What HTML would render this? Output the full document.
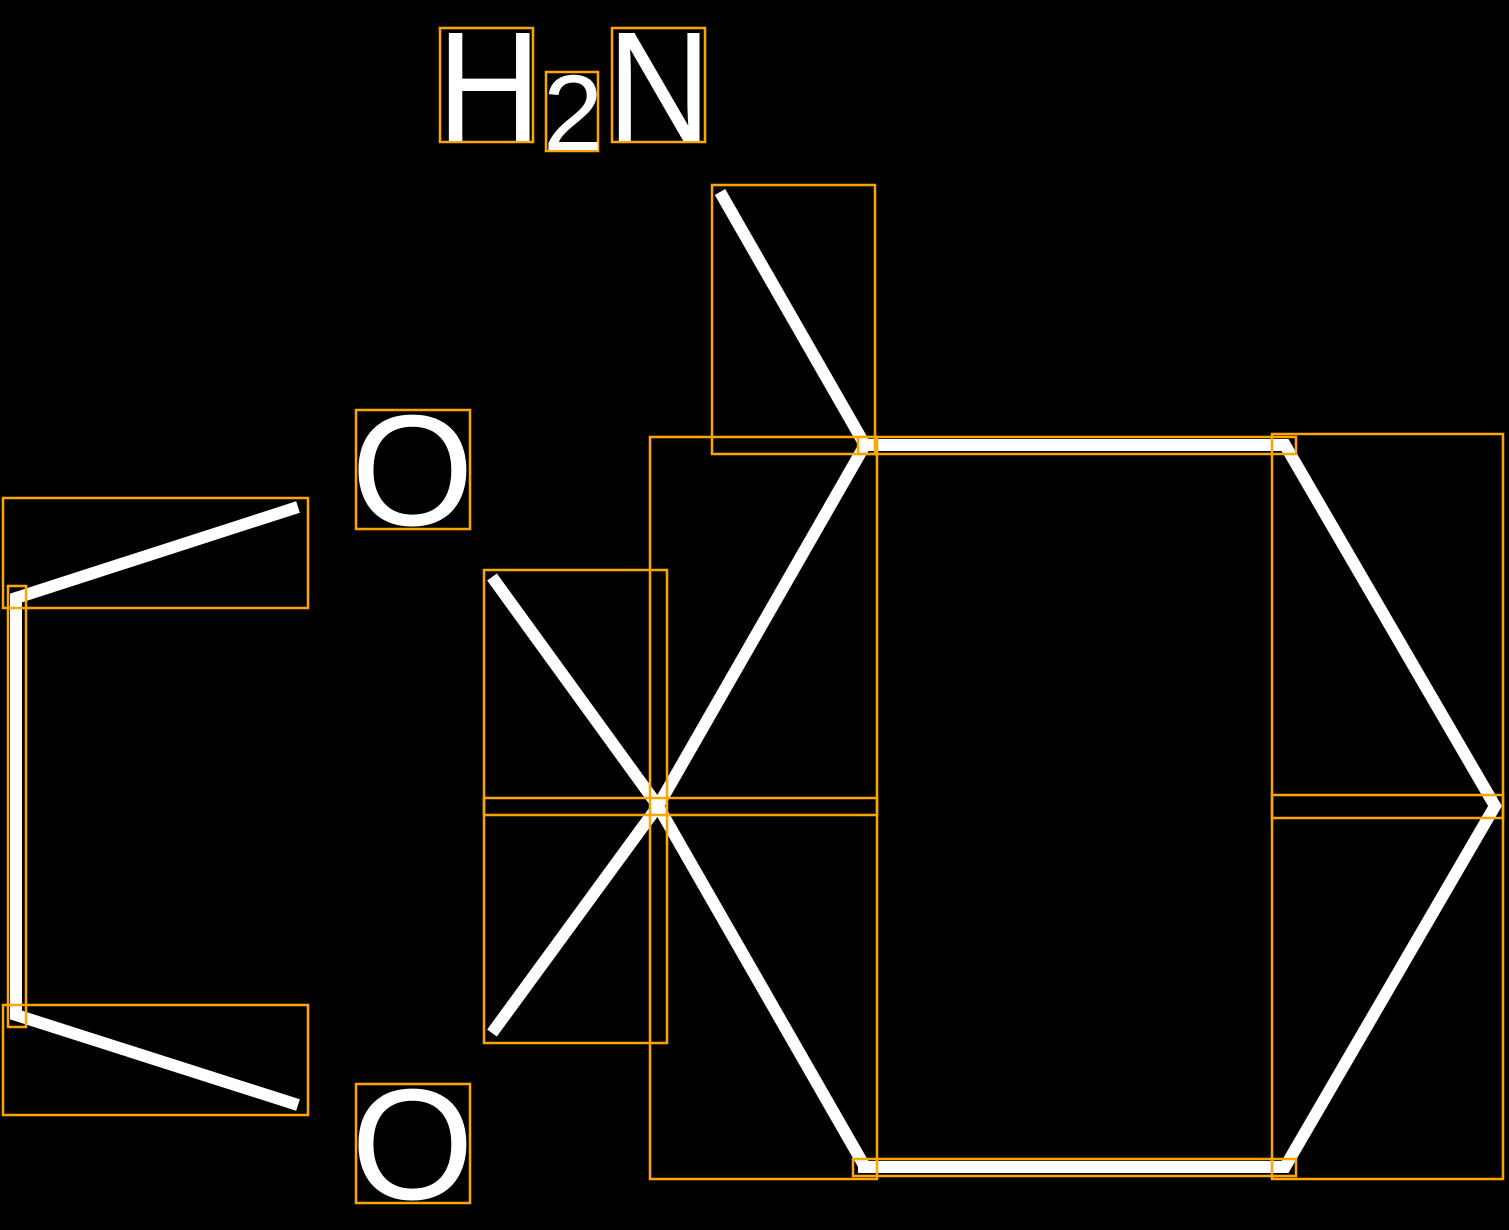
<!DOCTYPE html>
<html><head><style>html,body{margin:0;padding:0;background:#000;}svg{display:block}</style></head>
<body>
<svg width="1509" height="1230" viewBox="0 0 1509 1230" xmlns="http://www.w3.org/2000/svg">
<rect width="1509" height="1230" fill="#000"/>
<g stroke="#fff" stroke-width="12" fill="none" stroke-linecap="butt" stroke-linejoin="miter">
<polyline points="298,507 16,598 16,1015 298,1105"/>
<line x1="492" y1="577" x2="658" y2="806"/>
<line x1="492" y1="1033" x2="658" y2="806"/>
<line x1="720" y1="192" x2="865" y2="445"/>
<polyline points="865,445 658,806 865,1167"/>
<polyline points="858,445 1285,445 1495,806 1285,1167 858,1167"/>
</g>
<g stroke="#FFA500" stroke-width="2.5" fill="none">
<rect x="440" y="28" width="93" height="114"/>
<rect x="546" y="72" width="52" height="79"/>
<rect x="612" y="28" width="93" height="114"/>
<rect x="356" y="410" width="114" height="119"/>
<rect x="356" y="1084" width="114" height="119"/>
<rect x="3" y="498" width="305" height="110"/>
<rect x="8" y="586" width="18" height="441"/>
<rect x="3" y="1005" width="305" height="110"/>
<rect x="484" y="570" width="183" height="473"/>
<rect x="484" y="798" width="393" height="17"/>
<rect x="650" y="437" width="227" height="742"/>
<rect x="712" y="185" width="163" height="269"/>
<rect x="858" y="437" width="438" height="17"/>
<rect x="853" y="1159" width="443" height="17"/>
<rect x="1272" y="434" width="231" height="745"/>
<rect x="1272" y="795" width="231" height="23"/>
</g>
<g fill="#fff" font-family="Liberation Sans, sans-serif">
<text transform="translate(437,141) scale(0.92,1)" font-size="157">H</text>
<text x="543" y="150" font-size="108">2</text>
<text transform="translate(607,141) scale(0.92,1)" font-size="157">N</text>
<text x="351" y="525" font-size="158">O</text>
<text x="351" y="1199" font-size="158">O</text>
</g>
</svg>
</body></html>
